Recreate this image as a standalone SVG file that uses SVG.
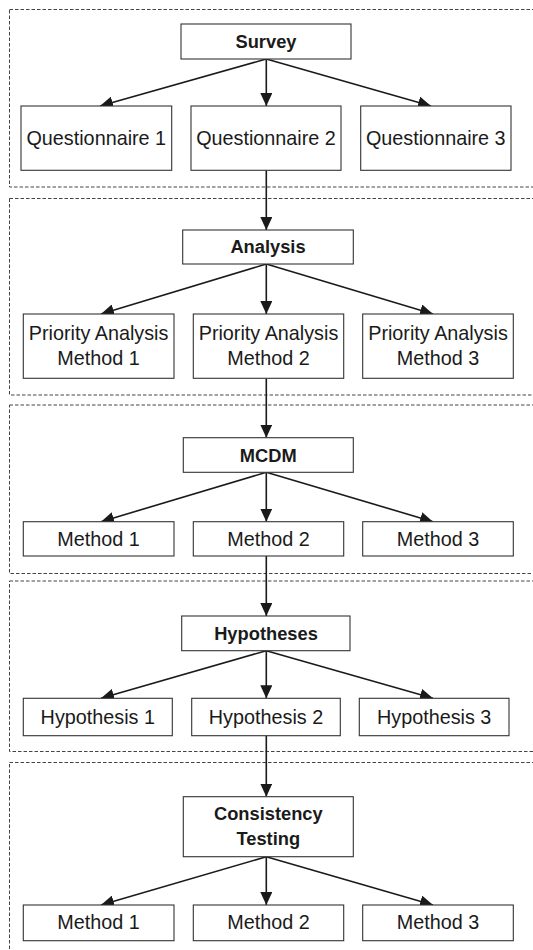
<svg xmlns="http://www.w3.org/2000/svg" width="533" height="950" viewBox="0 0 533 950">
<defs>
<style>
.sec{fill:none;stroke:#444;stroke-width:1;stroke-dasharray:3.5,2}
.box{fill:#fff;stroke:#333;stroke-width:1.1}
.t{font-family:"Liberation Sans",Arial,sans-serif;font-size:19.8px;fill:#1a1a1a;text-anchor:middle}
.b{font-family:"Liberation Sans",Arial,sans-serif;font-size:18.3px;font-weight:bold;fill:#1a1a1a;text-anchor:middle}
.c{fill:none;stroke:#1a1a1a;stroke-width:1.6;marker-end:url(#ah)}
</style>
<marker id="ah" markerUnits="userSpaceOnUse" markerWidth="13" markerHeight="12" refX="13" refY="6" orient="auto">
<path d="M0,0 L13,6 L0,12 z" fill="#1a1a1a"/>
</marker>
</defs>
<rect width="533" height="950" fill="#fff"/>
<g id="sections">
<rect class="sec" x="9.5" y="9.5" width="600" height="177.5"/>
<rect class="sec" x="9.5" y="198.5" width="600" height="196.5"/>
<rect class="sec" x="9.5" y="405" width="600" height="168.5"/>
<rect class="sec" x="9.5" y="581" width="600" height="170.5"/>
<rect class="sec" x="9.5" y="762.5" width="600" height="200"/>
</g>
<g id="connectors">
<line class="c" x1="266.3" y1="59" x2="100" y2="106"/>
<line class="c" x1="266.3" y1="59" x2="266.3" y2="106"/>
<line class="c" x1="266.3" y1="59" x2="431" y2="106"/>
<line class="c" x1="266.3" y1="170.3" x2="266.3" y2="230"/>
<line class="c" x1="266.3" y1="264" x2="101" y2="314"/>
<line class="c" x1="266.3" y1="264" x2="266.3" y2="314"/>
<line class="c" x1="266.3" y1="264" x2="433" y2="314"/>
<line class="c" x1="266.3" y1="378.3" x2="266.3" y2="437.7"/>
<line class="c" x1="266.3" y1="472.3" x2="101" y2="521.7"/>
<line class="c" x1="266.3" y1="472.3" x2="266.3" y2="521.7"/>
<line class="c" x1="266.3" y1="472.3" x2="433" y2="521.7"/>
<line class="c" x1="266.3" y1="556" x2="266.3" y2="616"/>
<line class="c" x1="266.3" y1="650.7" x2="101" y2="698.3"/>
<line class="c" x1="266.3" y1="650.7" x2="266.3" y2="698.3"/>
<line class="c" x1="266.3" y1="650.7" x2="433" y2="698.3"/>
<line class="c" x1="266.3" y1="735.7" x2="266.3" y2="796.7"/>
<line class="c" x1="266.3" y1="856.7" x2="101" y2="905"/>
<line class="c" x1="266.3" y1="856.7" x2="266.3" y2="905"/>
<line class="c" x1="266.3" y1="856.7" x2="433" y2="905"/>
</g>
<g id="survey"><rect class="box" x="181" y="24" width="170" height="35"/><text class="b" x="266" y="48">Survey</text></g>
<g id="q1"><rect class="box" x="21" y="106" width="150.7" height="64.3"/><text class="t" x="96.3" y="145">Questionnaire 1</text></g>
<g id="q2"><rect class="box" x="191" y="106" width="150" height="64.3"/><text class="t" x="266" y="145">Questionnaire 2</text></g>
<g id="q3"><rect class="box" x="360.7" y="106" width="150.3" height="64.3"/><text class="t" x="435.8" y="145">Questionnaire 3</text></g>
<g id="analysis"><rect class="box" x="182.7" y="230" width="170.6" height="34"/><text class="b" x="268" y="253.3">Analysis</text></g>
<g id="pa1"><rect class="box" x="23.3" y="314" width="150.7" height="64.3"/><text class="t" x="98.6" y="340">Priority Analysis</text><text class="t" x="98.6" y="365">Method 1</text></g>
<g id="pa2"><rect class="box" x="193.3" y="314" width="150.4" height="64.3"/><text class="t" x="268.5" y="340">Priority Analysis</text><text class="t" x="268.5" y="365">Method 2</text></g>
<g id="pa3"><rect class="box" x="362.7" y="314" width="150.6" height="64.3"/><text class="t" x="438" y="340">Priority Analysis</text><text class="t" x="438" y="365">Method 3</text></g>
<g id="mcdm"><rect class="box" x="183.3" y="437.7" width="170" height="34.6"/><text class="b" x="268.3" y="461.7">MCDM</text></g>
<g id="m1"><rect class="box" x="23.3" y="521.7" width="150.7" height="34.3"/><text class="t" x="98.6" y="545.7">Method 1</text></g>
<g id="m2"><rect class="box" x="193.3" y="521.7" width="150.4" height="34.3"/><text class="t" x="268.5" y="545.7">Method 2</text></g>
<g id="m3"><rect class="box" x="362.7" y="521.7" width="150.6" height="34.3"/><text class="t" x="438" y="545.7">Method 3</text></g>
<g id="hypotheses"><rect class="box" x="181.7" y="616" width="168.3" height="34.7"/><text class="b" x="266" y="640">Hypotheses</text></g>
<g id="h1"><rect class="box" x="23.3" y="698.3" width="149" height="37.4"/><text class="t" x="97.8" y="724.3">Hypothesis 1</text></g>
<g id="h2"><rect class="box" x="191.7" y="698.3" width="148.6" height="37.4"/><text class="t" x="266" y="724.3">Hypothesis 2</text></g>
<g id="h3"><rect class="box" x="359.3" y="698.3" width="149.7" height="37.4"/><text class="t" x="434.2" y="724.3">Hypothesis 3</text></g>
<g id="consistency"><rect class="box" x="183.3" y="796.7" width="170" height="60"/><text class="b" x="268.3" y="820">Consistency</text><text class="b" x="268.3" y="845">Testing</text></g>
<g id="c1"><rect class="box" x="23.3" y="905" width="150.7" height="35.7"/><text class="t" x="98.6" y="929.3">Method 1</text></g>
<g id="c2"><rect class="box" x="193.3" y="905" width="150.4" height="35.7"/><text class="t" x="268.5" y="929.3">Method 2</text></g>
<g id="c3"><rect class="box" x="362.7" y="905" width="150.6" height="35.7"/><text class="t" x="438" y="929.3">Method 3</text></g>
</svg>
